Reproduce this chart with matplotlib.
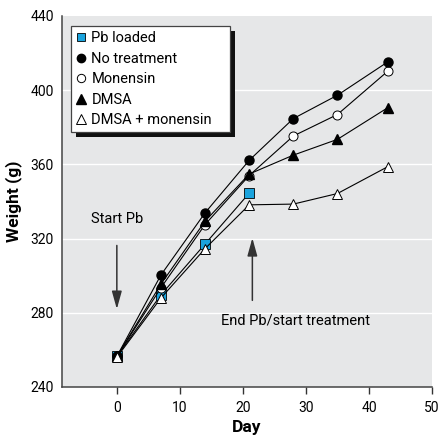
import matplotlib
matplotlib.use("Agg")
import matplotlib.pyplot as plt
from matplotlib import font_manager
from matplotlib.lines import Line2D
from matplotlib.patches import Rectangle

names = {f.name for f in font_manager.fontManager.ttflist}
fam = "Liberation Sans Narrow" if "Liberation Sans Narrow" in names else "Roboto"
plt.rcParams['font.family'] = [fam, 'DejaVu Sans']

# Data
days_pb = [0, 7, 14, 21]
pb_loaded = [256.5, 289.7, 317.1, 344.5]
days = [0, 7, 14, 21, 28, 35, 43]
no_treatment = [256.5, 300.4, 333.9, 362.2, 384.7, 397.3, 415.3]
monensin = [256.5, 293.5, 327.6, 354.0, 375.3, 386.9, 410.3]
dmsa = [256.5, 295.5, 329.4, 354.8, 365.0, 373.5, 390.6]
dmsa_mon = [256.0, 288.0, 314.6, 338.2, 338.6, 344.3, 358.8]
xticks = [0, 10, 20, 30, 40, 50]
yticks = [240, 280, 320, 360, 400, 440]

fig = plt.figure(figsize=(4.4, 4.45), dpi=100)
ax = fig.add_axes([62/440, 1-387/445, 370/440, 371/445])
bg = '#e6e7e8'
ax.set_facecolor(bg)
ax.set_xlim(-8.7, 50)
ax.set_ylim(240, 440)
for y in [280, 320, 360, 400]:
    ax.axhline(y, color='white', lw=1.0, zorder=0.5)

lw = 0.8
ms = 6.5
ax.plot(days_pb, pb_loaded, color='black', lw=lw, marker='s', ms=ms, mfc='#1aa3dd', mec='black', mew=0.6, zorder=2)
ax.plot(days, monensin, color='black', lw=lw, marker='o', ms=ms, mfc='white', mec='black', mew=0.7, zorder=3)
ax.plot(days, no_treatment, color='black', lw=lw, marker='o', ms=ms, mfc='black', mec='black', zorder=4)
ax.plot(days, dmsa, color='black', lw=lw, marker='^', ms=ms+0.5, mfc='black', mec='black', zorder=5)
ax.plot(days, dmsa_mon, color='black', lw=lw, marker='^', ms=ms+0.5, mfc='white', mec='black', mew=0.7, zorder=6)

ax.set_xticks(xticks)
ax.set_yticks(yticks)
ax.tick_params(axis='x', length=5, width=1, color='#333333', labelsize=10, pad=5, direction='out')
ax.tick_params(axis='y', length=0, labelsize=10, pad=6)
for s in ['top', 'right']:
    ax.spines[s].set_visible(False)
for s in ['left', 'bottom']:
    ax.spines[s].set_color('#444444')
    ax.spines[s].set_linewidth(1.1)

ax.set_xlabel('Day', fontsize=12.5, fontweight='bold', labelpad=4)
ax.set_ylabel('Weight (g)', fontsize=12.5, fontweight='bold', labelpad=6)

# Annotations
astyle = dict(arrowstyle='-|>,head_length=0.9,head_width=0.25', color='#333333', lw=1.1, mutation_scale=12)
ax.text(0, 330.5, 'Start Pb', ha='center', va='center', fontsize=10.5)
ax.annotate('', xy=(0, 280.5), xytext=(0, 317.8), arrowprops=astyle)
ax.text(28.3, 276, 'End Pb/start treatment', ha='center', va='center', fontsize=10.5)
ax.annotate('', xy=(21.5, 321.8), xytext=(21.5, 285.2), arrowprops=astyle)

# Legend
handles = [
    Line2D([], [], ls='none', marker='s', ms=6, mfc='#1aa3dd', mec='black', mew=0.6),
    Line2D([], [], ls='none', marker='o', ms=6, mfc='black', mec='black'),
    Line2D([], [], ls='none', marker='o', ms=6, mfc='white', mec='black', mew=0.7),
    Line2D([], [], ls='none', marker='^', ms=7, mfc='black', mec='black'),
    Line2D([], [], ls='none', marker='^', ms=7, mfc='white', mec='black', mew=0.7),
]
labels = ['Pb loaded', 'No treatment', 'Monensin', 'DMSA', 'DMSA + monensin']
top = 1 - 10/371
leg = ax.legend(handles, labels, loc='upper left', bbox_to_anchor=(9/370, top - 0.4, 159/370, 0.4),
                mode='expand', borderaxespad=0, fontsize=10.5, handlelength=0.7, handletextpad=0.35,
                labelspacing=0.45, borderpad=0.35, fancybox=False, framealpha=1,
                edgecolor='#444444', frameon=True)
leg.get_frame().set_linewidth(0.9)
leg.set_zorder(20)

fig.canvas.draw()
bb = leg.get_window_extent()
inv = fig.transFigure.inverted()
(x0, y0), (x1, y1) = inv.transform([(bb.x0 + 5, bb.y0 - 5), (bb.x1 + 5, bb.y1 - 5)])
shadow = Rectangle((x0, y0), x1 - x0, y1 - y0, transform=fig.transFigure,
                   facecolor='#111111', edgecolor='none', zorder=19)
ax.add_artist(shadow)
shadow.set_clip_on(False)

fig.savefig('out.png', dpi=100)
